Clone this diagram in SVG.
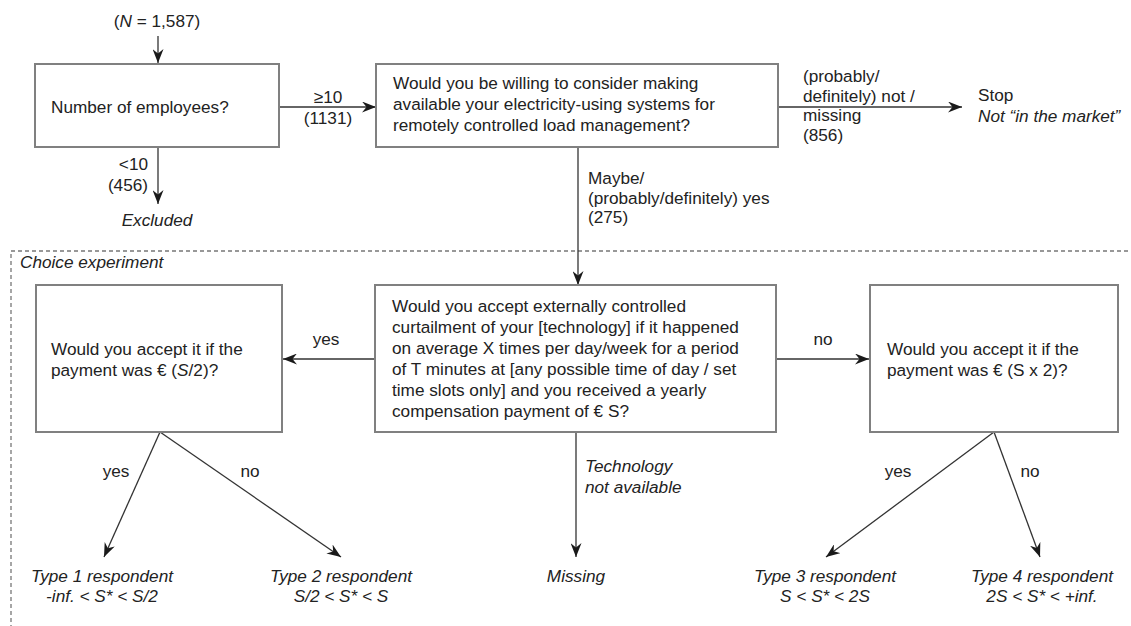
<svg xmlns="http://www.w3.org/2000/svg" width="1131" height="626" viewBox="0 0 1131 626">
<defs>
<marker id="arr" viewBox="0 0 14 11" refX="14" refY="5.5" markerWidth="14" markerHeight="11" markerUnits="userSpaceOnUse" orient="auto">
<path d="M0,0 L14,5.5 L0,11 L4.5,5.5 z" fill="#1a1a1a"/>
</marker>
<style>
.box{fill:#fff;stroke:#808080;stroke-width:2}
.ln{fill:none;stroke:#333;stroke-width:1.3}
text{font-family:"Liberation Sans",Arial,sans-serif;font-size:17.2px;fill:#222}
.it{font-style:italic}
.mid{text-anchor:middle}
.end{text-anchor:end}
</style>
</defs>
<rect width="1131" height="626" fill="#fff"/>
<path d="M1128,251 L11,251 L11,626" fill="none" stroke="#777" stroke-width="1.3" stroke-dasharray="4,3"/>
<text x="20" y="268" class="it">Choice experiment</text>

<g id="connectors">
<line class="ln" x1="158" y1="36" x2="158" y2="63" marker-end="url(#arr)"/>
<line class="ln" x1="158" y1="147" x2="158" y2="204" marker-end="url(#arr)"/>
<line class="ln" x1="279" y1="107" x2="376" y2="107" marker-end="url(#arr)"/>
<line class="ln" x1="778" y1="107" x2="962" y2="107" marker-end="url(#arr)"/>
<line class="ln" x1="578" y1="147" x2="578" y2="285" marker-end="url(#arr)"/>
<line class="ln" x1="375" y1="359" x2="283" y2="359" marker-end="url(#arr)"/>
<line class="ln" x1="776" y1="359" x2="869" y2="359" marker-end="url(#arr)"/>
<line class="ln" x1="160" y1="432" x2="104" y2="557" marker-end="url(#arr)"/>
<line class="ln" x1="160" y1="432" x2="341" y2="557" marker-end="url(#arr)"/>
<line class="ln" x1="576" y1="432" x2="576" y2="557" marker-end="url(#arr)"/>
<line class="ln" x1="994" y1="432" x2="826" y2="557" marker-end="url(#arr)"/>
<line class="ln" x1="994" y1="432" x2="1040" y2="557" marker-end="url(#arr)"/>
<text x="157" y="27" class="mid">(<tspan class="it">N</tspan> = 1,587)</text>
<text x="148" y="170" class="end">&lt;10</text>
<text x="148" y="191" class="end">(456)</text>
<text x="328" y="103" class="mid">≥10</text>
<text x="328" y="124" class="mid">(1131)</text>
<text x="803" y="82">(probably/</text>
<text x="803" y="102">definitely) not /</text>
<text x="803" y="121">missing</text>
<text x="803" y="141">(856)</text>
<text x="588" y="184">Maybe/</text>
<text x="588" y="204">(probably/definitely) yes</text>
<text x="588" y="223">(275)</text>
<text x="326" y="345" class="mid">yes</text>
<text x="823" y="345" class="mid">no</text>
<text x="116" y="477" class="mid">yes</text>
<text x="250" y="477" class="mid">no</text>
<text x="585" y="472" class="it">Technology</text>
<text x="585" y="493" class="it">not available</text>
<text x="898" y="477" class="mid">yes</text>
<text x="1030" y="477" class="mid">no</text>
</g>

<g id="n-employees">
<rect class="box" x="35" y="64" width="244" height="83"/>
<text x="51" y="113">Number of employees?</text>
</g>
<g id="n-excluded"><text x="157" y="226" class="it mid">Excluded</text></g>
<g id="n-willing">
<rect class="box" x="376" y="64" width="402" height="83"/>
<text x="393" y="89">Would you be willing to consider making</text>
<text x="393" y="110">available your electricity-using systems for</text>
<text x="393" y="131">remotely controlled load management?</text>
</g>
<g id="n-stop">
<text x="978" y="101">Stop</text>
<text x="978" y="122" class="it">Not “in the market”</text>
</g>
<g id="n-accept">
<rect class="box" x="375" y="285" width="401" height="147"/>
<text x="392" y="312">Would you accept externally controlled</text>
<text x="392" y="333">curtailment of your [technology] if it happened</text>
<text x="392" y="354">on average X times per day/week for a period</text>
<text x="392" y="375">of T minutes at [any possible time of day / set</text>
<text x="392" y="396">time slots only] and you received a yearly</text>
<text x="392" y="417">compensation payment of € S?</text>
</g>
<g id="n-half">
<rect class="box" x="36" y="285" width="246" height="147"/>
<text x="51" y="355">Would you accept it if the</text>
<text x="51" y="376">payment was € (<tspan class="it">S</tspan>/2)?</text>
</g>
<g id="n-double">
<rect class="box" x="870" y="285" width="248" height="147"/>
<text x="887" y="355">Would you accept it if the</text>
<text x="887" y="376">payment was € (S x 2)?</text>
</g>
<g id="n-type1">
<text x="102" y="582" class="it mid">Type 1 respondent</text>
<text x="102" y="602" class="it mid">-inf. &lt; S* &lt; S/2</text>
</g>
<g id="n-type2">
<text x="341" y="582" class="it mid">Type 2 respondent</text>
<text x="341" y="602" class="it mid">S/2 &lt; S* &lt; S</text>
</g>
<g id="n-missing"><text x="576" y="582" class="it mid">Missing</text></g>
<g id="n-type3">
<text x="825" y="582" class="it mid">Type 3 respondent</text>
<text x="825" y="602" class="it mid">S &lt; S* &lt; 2S</text>
</g>
<g id="n-type4">
<text x="1042" y="582" class="it mid">Type 4 respondent</text>
<text x="1042" y="602" class="it mid">2S &lt; S* &lt; +inf.</text>
</g>
</svg>
